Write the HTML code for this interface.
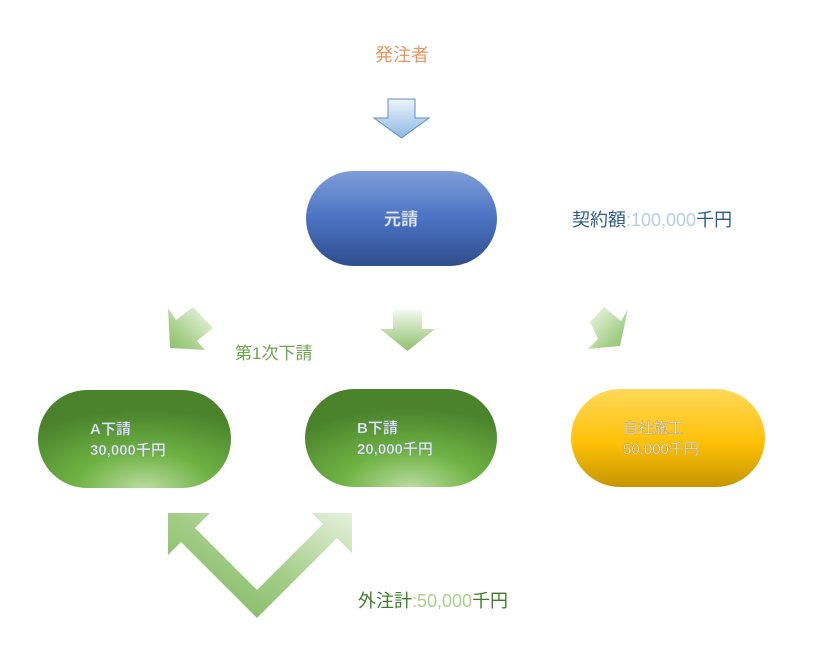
<!DOCTYPE html>
<html><head><meta charset="utf-8"><style>
html,body{margin:0;padding:0;background:#fff;}
svg{display:block;font-family:"Liberation Sans","Noto Sans CJK JP",sans-serif;}
</style></head><body>
<svg width="816" height="659" viewBox="0 0 816 659" xmlns="http://www.w3.org/2000/svg">
<defs>
<linearGradient id="blueArrow" x1="0" y1="0" x2="0" y2="1"><stop offset="0" stop-color="#eef4fb"/><stop offset="1" stop-color="#8db8e3"/></linearGradient>
<linearGradient id="blue" x1="0" y1="0" x2="0" y2="1"><stop offset="0" stop-color="#7f9dd8"/><stop offset="0.5" stop-color="#4b73c3"/><stop offset="1" stop-color="#2f4d8c"/></linearGradient>
<radialGradient id="green" cx="0.55" cy="1" r="0.8" fx="0.55" fy="1"><stop offset="0" stop-color="#b9dca0"/><stop offset="0.45" stop-color="#6fb243"/><stop offset="1" stop-color="#4a832c"/></radialGradient>
<linearGradient id="yellow" x1="0" y1="0" x2="0" y2="1"><stop offset="0" stop-color="#ffd95a"/><stop offset="0.55" stop-color="#ffc107"/><stop offset="1" stop-color="#c59600"/></linearGradient>
<linearGradient id="gDown" x1="0" y1="0" x2="0" y2="1"><stop offset="0" stop-color="#f4f9ef"/><stop offset="1" stop-color="#8cc06a"/></linearGradient>
<linearGradient id="gLeft" x1="1" y1="0" x2="0" y2="1"><stop offset="0" stop-color="#f4f9ef"/><stop offset="0.7" stop-color="#a5cf88"/><stop offset="1" stop-color="#8cc06a"/></linearGradient>
<linearGradient id="gRight" x1="0" y1="0" x2="1" y2="1"><stop offset="0" stop-color="#f4f9ef"/><stop offset="0.7" stop-color="#a5cf88"/><stop offset="1" stop-color="#8cc06a"/></linearGradient>
<linearGradient id="gV" x1="0" y1="1" x2="1" y2="0"><stop offset="0" stop-color="#7ab45a"/><stop offset="0.5" stop-color="#a2cd86"/><stop offset="1" stop-color="#e6f1de"/></linearGradient>
</defs>

<text x="402" y="61" text-anchor="middle" font-size="18" fill="#ea955c">発注者</text>

<polygon points="388,99 415,99 415,118 429,118 401.5,138 374,118 388,118" fill="url(#blueArrow)" stroke="#5f8fc2" stroke-width="1"/>

<rect x="306" y="171" width="191" height="95" rx="47.5" fill="url(#blue)"/>
<text x="401" y="225" text-anchor="middle" font-size="17" font-weight="bold" fill="#dfe7f6" stroke="#8ea2c4" stroke-width="0.4">元請</text>

<text x="572" y="226" font-size="18"><tspan fill="#2e5b8f">契約額</tspan><tspan fill="#b7cde6">:100,000</tspan><tspan fill="#2e5b8f">千円</tspan></text>

<polygon points="168,308 176,320 193,307 213,328 197,341 205,350 170,348" fill="url(#gLeft)"/>
<polygon points="393,310 422,310 422,329 435,329 407.5,351 380,329 393,329" fill="url(#gDown)"/>
<polygon points="628,309 621,321 604,307 590,322 598,339 588,349 620,346" fill="url(#gRight)"/>

<text x="235" y="359" font-size="17" fill="#6aa84a">第1次下請</text>

<rect x="38" y="390" width="193" height="98" rx="49" fill="url(#green)"/>
<rect x="305" y="389" width="192" height="98" rx="49" fill="url(#green)"/>
<rect x="571" y="389" width="194" height="98" rx="49" fill="url(#yellow)"/>

<g font-size="15" font-weight="bold" fill="#dbe9f2" stroke="#7f8f88" stroke-width="0.35">
<text x="90" y="434">A下請</text>
<text x="90" y="455">30,000千円</text>
<text x="357" y="433">B下請</text>
<text x="357" y="454">20,000千円</text>
</g>
<g font-size="15" fill="#f5f0dc" stroke="#a59a78" stroke-width="0.4">
<text x="623" y="433">自社施工</text>
<text x="623" y="454">50,000千円</text>
</g>

<polygon points="257,618 181,542 168,555 168,513 210,513 195,528 257,590 323,524 312,513 352,513 352,553 337,538" fill="url(#gV)"/>

<text x="358" y="607" font-size="18"><tspan fill="#3f7a2a">外注計</tspan><tspan fill="#a8d08a">:50,000</tspan><tspan fill="#3f7a2a">千円</tspan></text>
</svg>
</body></html>
